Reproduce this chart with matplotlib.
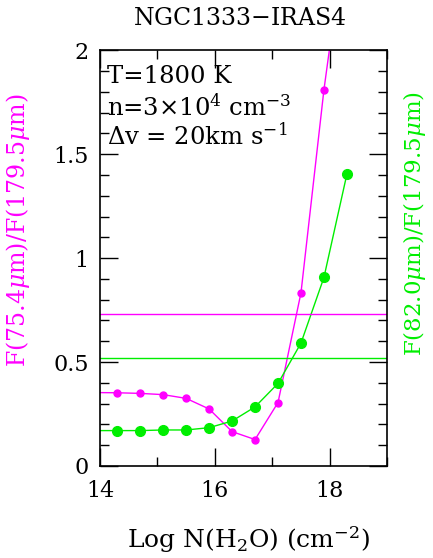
import numpy as np
import matplotlib.pyplot as plt
from matplotlib.ticker import MultipleLocator

plt.rcParams['font.family'] = ['DejaVu Serif']
plt.rcParams['mathtext.fontset'] = 'dejavuserif'

log_n = [13.9, 14.3, 14.7, 15.1, 15.5, 15.9, 16.3, 16.7, 17.1, 17.5, 17.9, 18.3]
ratio_75 = [0.353, 0.352, 0.349, 0.343, 0.325, 0.274, 0.165, 0.127, 0.305, 0.833, 1.81, 2.62]
ratio_82 = [0.170, 0.170, 0.170, 0.173, 0.173, 0.184, 0.216, 0.284, 0.397, 0.591, 0.907, 1.404]
obs_75 = 0.731
obs_82 = 0.519

magenta = '#ff00ff'
green = '#00ee00'

fig = plt.figure(figsize=(4.33, 5.58), dpi=100)
ax = fig.add_axes([0.231, 0.165, 0.663, 0.745])

ax.plot(log_n, ratio_75, '-o', color=magenta, lw=1, ms=5)
ax.plot(log_n, ratio_82, '-o', color=green, lw=1, ms=7)
ax.axhline(obs_75, color=magenta, lw=1)
ax.axhline(obs_82, color=green, lw=1)

ax.set_xlim(14, 19)
ax.set_ylim(0, 2)
ax.xaxis.set_major_locator(MultipleLocator(2))
ax.xaxis.set_minor_locator(MultipleLocator(1))
ax.yaxis.set_minor_locator(MultipleLocator(0.1))
ax.set_yticks([0, 0.5, 1, 1.5, 2])
ax.set_yticklabels(['0', '0.5', '1', '1.5', '2'])
ax.tick_params(which='both', direction='in', top=True, right=True, labelsize=16)
ax.tick_params(axis='x', pad=10)
ax.tick_params(axis='y', pad=8)
ax.tick_params(which='major', length=13, width=1)
ax.tick_params(which='minor', length=6.5, width=1)
for s in ax.spines.values():
    s.set_linewidth(1.2)

fig.text(0.555, 0.967, 'NGC1333$-$IRAS4', fontsize=17, ha='center', va='center')
fig.text(0.575, 0.032, 'Log N(H$_2$O) (cm$^{-2}$)', fontsize=18, ha='center', va='center')
fig.text(0.042, 0.588, r'F(75.4$\mu$m)/F(179.5$\mu$m)', color=magenta, fontsize=17,
         rotation=90, ha='center', va='center')
fig.text(0.958, 0.60, r'F(82.0$\mu$m)/F(179.5$\mu$m)', color=green, fontsize=16.5,
         rotation=90, ha='center', va='center')

ax.text(0.025, 0.965, 'T=1800 K', transform=ax.transAxes, fontsize=17.5, va='top')
ax.text(0.025, 0.895, r'n=3$\times$10$^4$ cm$^{-3}$', transform=ax.transAxes, fontsize=17.5, va='top')
ax.text(0.025, 0.825, r'$\Delta$v = 20km s$^{-1}$', transform=ax.transAxes, fontsize=17.5, va='top')

fig.savefig('out.png', dpi=100)
